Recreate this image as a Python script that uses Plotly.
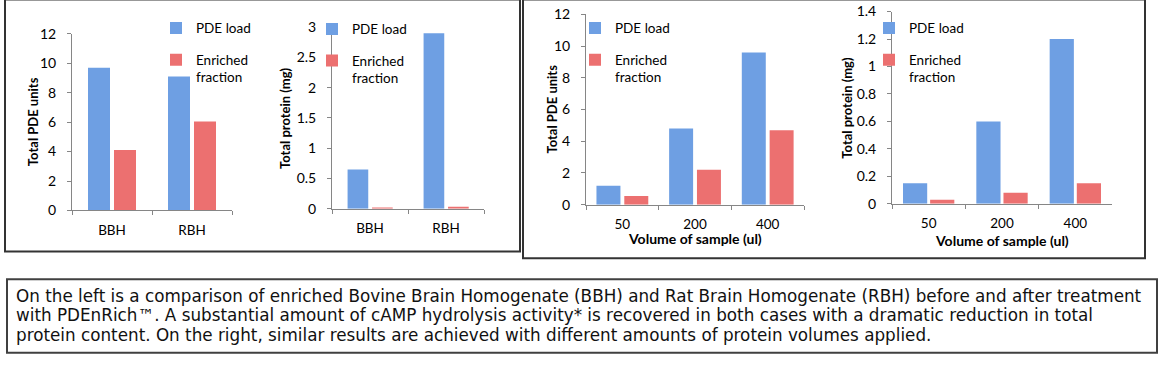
import plotly.graph_objects as go

# ---------------- data ----------------
left_categories = ["BBH", "RBH"]
left_units_load = [9.7, 9.1]
left_units_enriched = [4.1, 6.05]
left_protein_load = [0.65, 2.9]
left_protein_enriched = [0.02, 0.035]

volume_categories = ["50", "200", "400"]
vol_units_load = [1.2, 4.8, 9.6]
vol_units_enriched = [0.55, 2.2, 4.7]
vol_protein_load = [0.15, 0.6, 1.2]
vol_protein_enriched = [0.03, 0.08, 0.15]

series_names = ["PDE load", "Enriched<br>fraction"]

caption_lines = [
    "On the left is a comparison of enriched Bovine Brain Homogenate (BBH) and Rat Brain Homogenate (RBH) before and after treatment",
    "with PDEnRich\u2122. A substantial amount of cAMP hydrolysis activity* is recovered in both cases with a dramatic reduction in total",
    "protein content. On the right, similar results are achieved with different amounts of protein volumes applied.",
]

# ---------------- layout helpers ----------------
W, H = 1165, 375


def fx(px):
    return px / W


def fy(py):
    return 1 - py / H


BLUE = "#6E9FE3"
RED = "#EC7070"
AXC = "#868686"
FONT = "Lato"

panels = [
    dict(cats=left_categories, load=left_units_load, enr=left_units_enriched,
         xd=(72, 232), yd=(26, 211), rng=[0, 12], dt=2, ytitle="Total PDE units", ytx=33,
         xtitle=None, geo=(-0.30, 0.025, 0.275), leg=(156, 4)),
    dict(cats=left_categories, load=left_protein_load, enr=left_protein_enriched,
         xd=(332, 484), yd=(19, 209.3), rng=[0, 3], dt=0.5, ytitle="Total protein (mg)", ytx=285,
         xtitle=None, geo=(-0.295, 0.027, 0.272), leg=(312, 5)),
    dict(cats=volume_categories, load=vol_units_load, enr=vol_units_enriched,
         xd=(586, 804), yd=(5.7, 205), rng=[0, 12], dt=2, ytitle="Total PDE units", ytx=552,
         xtitle="Volume of sample (ul)", xty=240, geo=(-0.356, 0.027, 0.33), leg=(575, 4)),
    dict(cats=volume_categories, load=vol_protein_load, enr=vol_protein_enriched,
         xd=(892, 1112), yd=(2.7, 204), rng=[0, 1.4], dt=0.2, ytitle="Total protein (mg)", ytx=847,
         xtitle="Volume of sample (ul)", xty=243, geo=(-0.35, 0.02, 0.33), leg=(869, 4)),
]

fig = go.Figure()
layout = dict(
    width=W, height=H, margin=dict(l=0, r=0, t=0, b=0),
    paper_bgcolor="white", plot_bgcolor="white",
    barmode="overlay", showlegend=True,
    font=dict(family=FONT, size=13, color="#000000"),
)
annotations = []
shapes = []

for i, p in enumerate(panels, start=1):
    sfx = "" if i == 1 else str(i)
    xa, ya = "x" + sfx, "y" + sfx
    legname = "legend" + sfx
    off_l, off_r, wid = p["geo"]
    fig.add_trace(go.Bar(x=p["cats"], y=p["load"], name=series_names[0], xaxis=xa, yaxis=ya,
                         marker=dict(color=BLUE, line=dict(width=0)), offset=off_l, width=wid,
                         legend=legname, legendgroup="load" + sfx, hoverinfo="skip"))
    fig.add_trace(go.Bar(x=p["cats"], y=p["enr"], name=series_names[1], xaxis=xa, yaxis=ya,
                         marker=dict(color=RED, line=dict(width=0)), offset=off_r, width=wid,
                         legend=legname, legendgroup="enr" + sfx, hoverinfo="skip"))
    layout["xaxis" + sfx] = dict(
        domain=[fx(p["xd"][0]), fx(p["xd"][1])], anchor=ya, type="category",
        showline=True, linecolor=AXC, linewidth=1, ticks="outside", ticklen=4, tickcolor=AXC,
        tickson="boundaries", showgrid=False, zeroline=False, ticklabelstandoff=7,
        tickfont=dict(family=FONT, size=13.5, color="#000"), fixedrange=True,
    )
    layout["yaxis" + sfx] = dict(
        domain=[fy(p["yd"][1]), fy(p["yd"][0])], anchor=xa, range=p["rng"], dtick=p["dt"],
        showline=True, linecolor=AXC, linewidth=1, ticks="outside", ticklen=4, tickcolor=AXC,
        showgrid=False, zeroline=False, ticklabelstandoff=8,
        tickfont=dict(family=FONT, size=14, color="#000"), fixedrange=True,
    )
    lx, ly = p["leg"]
    layout[legname] = dict(
        x=fx(lx), y=fy(ly), xanchor="left", yanchor="top", bgcolor="rgba(0,0,0,0)",
        font=dict(family=FONT, size=13.5, color="#000"), traceorder="grouped",
        tracegroupgap=11, valign="top", itemclick=False, itemdoubleclick=False,
    )
    annotations.append(dict(
        text="<b>%s</b>" % p["ytitle"], xref="paper", yref="paper",
        x=fx(p["ytx"]), y=fy((p["yd"][0] + p["yd"][1]) / 2), textangle=-90,
        showarrow=False, xanchor="center", yanchor="middle",
        font=dict(family=FONT, size=13, color="#000"),
    ))
    if p["xtitle"]:
        annotations.append(dict(
            text="<b>%s</b>" % p["xtitle"], xref="paper", yref="paper",
            x=fx((p["xd"][0] + p["xd"][1]) / 2), y=fy(p["xty"]),
            showarrow=False, xanchor="center", yanchor="middle",
            font=dict(family=FONT, size=14, color="#000"),
        ))

# frames
BOX = "#333333"
shapes.append(dict(type="rect", xref="paper", yref="paper", x0=fx(5), x1=fx(520), y0=fy(254), y1=fy(-10),
                   line=dict(color=BOX, width=2), fillcolor="rgba(0,0,0,0)", layer="below"))
shapes.append(dict(type="rect", xref="paper", yref="paper", x0=fx(523), x1=fx(1145), y0=fy(261), y1=fy(-10),
                   line=dict(color=BOX, width=2), fillcolor="rgba(0,0,0,0)", layer="below"))
shapes.append(dict(type="rect", xref="paper", yref="paper", x0=fx(7), x1=fx(1157), y0=fy(360), y1=fy(283),
                   line=dict(color="#404040", width=2), fillcolor="rgba(0,0,0,0)", layer="below"))

for k, line in enumerate(caption_lines):
    annotations.append(dict(
        text=line, xref="paper", yref="paper", x=fx(14), y=fy(301 + 20 * k),
        xanchor="left", yanchor="middle", align="left", showarrow=False,
        font=dict(family="DejaVu Sans", size=16.8, color="#111111"),
    ))

layout["annotations"] = annotations
layout["shapes"] = shapes
fig.update_layout(**layout)

fig.write_html("out.html", config={"displayModeBar": False, "staticPlot": True},
               post_script="document.body.style.margin='0px';")
